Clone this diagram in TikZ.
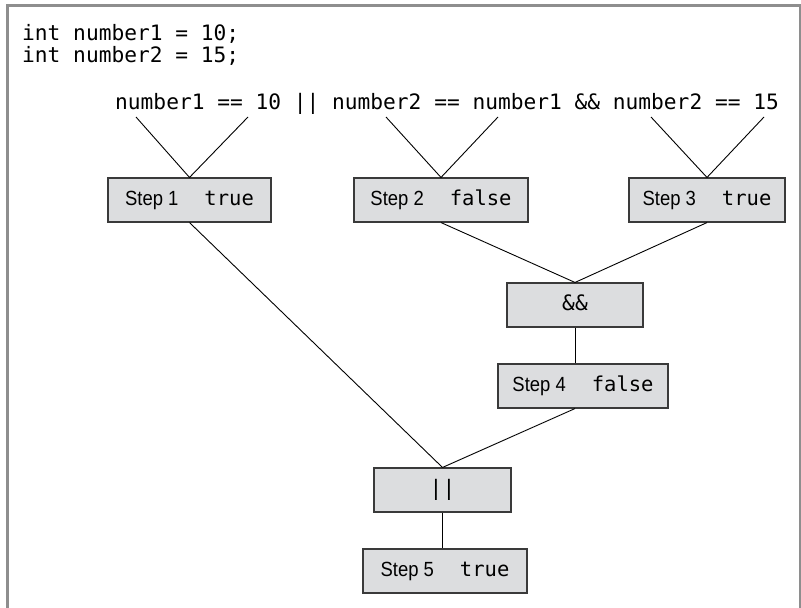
\documentclass[tikz,border=0pt]{standalone}
\usepackage{fontspec}
\setmainfont{Liberation Sans}
\newfontfamily\codefont{DejaVu Sans Mono}
\newfontfamily\labelfont{Liberation Sans}[FakeStretch=0.9]
\definecolor{framegray}{HTML}{8E8E8E}
\definecolor{boxfill}{HTML}{DCDDDF}
\definecolor{boxline}{HTML}{3A3A3A}
\newcommand{\code}[1]{{\codefont\fontsize{21.2}{24}\selectfont #1}}
\newcommand{\lbl}[2]{{\labelfont\fontsize{20.5}{22}\selectfont #1}\hspace{26pt}{\codefont\fontsize{20.5}{22}\selectfont #2}}
\tikzset{
  evalbox/.style={draw=boxline, fill=boxfill, line width=1.1pt, minimum height=44pt,
    inner sep=0pt, text height=14pt, text depth=3pt, anchor=center},
  wire/.style={line width=0.9pt, black},
  codetext/.style={inner sep=0pt, anchor=base west}
}
\begin{document}
\begin{tikzpicture}[x=1pt,y=-1pt]
  \useasboundingbox (0,0) rectangle (801,608);
  % outer frame, open at the bottom
  \draw[framegray, line width=3pt] (7,612) -- (7,5) -- (800,5) -- (800,612);

  % declarations
  \node[codetext] (decl1) at (22,40) {\code{int number1 = 10;}};
  \node[codetext] (decl2) at (22,62) {\code{int number2 = 15;}};

  % the expression being evaluated
  \node[codetext] (expr) at (115,109) {\code{number1 == 10 || number2 == number1 \&\& number2 == 15}};

  % endpoints under each comparison
  \coordinate (a1) at (136,117);
  \coordinate (a2) at (248,117);
  \coordinate (b1) at (386,117);
  \coordinate (b2) at (498,117);
  \coordinate (c1) at (651,117);
  \coordinate (c2) at (764,117);

  % evaluation steps
  \node[evalbox, minimum width=163pt] (s1) at (189.5,200) {\lbl{Step 1}{true}};
  \node[evalbox, minimum width=174pt] (s2) at (441,200) {\lbl{Step 2}{false}};
  \node[evalbox, minimum width=156pt] (s3) at (707,200) {\lbl{Step 3}{true}};
  \node[evalbox, minimum width=136pt] (and) at (575,305) {\code{\&\&}};
  \node[evalbox, minimum width=170pt] (s4) at (583,386) {\lbl{Step 4}{false}};
  \node[evalbox, minimum width=137pt] (or) at (442.5,490) {\code{||}};
  \node[evalbox, minimum width=164pt] (s5) at (445,571) {\lbl{Step 5}{true}};

  % connectors
  \draw[wire] (a1) -- (s1.north) -- (a2);
  \draw[wire] (b1) -- (s2.north) -- (b2);
  \draw[wire] (c1) -- (s3.north) -- (c2);
  \draw[wire] (s2.south) -- (and.north);
  \draw[wire] (s3.south) -- (and.north);
  \draw[wire] (and.south) -- (and.south |- s4.north);
  \draw[wire] (s1.south) -- (or.north);
  \draw[wire] (and.south |- s4.south) -- (or.north);
  \draw[wire] (or.south) -- (or.south |- s5.north);
\end{tikzpicture}
\end{document}
